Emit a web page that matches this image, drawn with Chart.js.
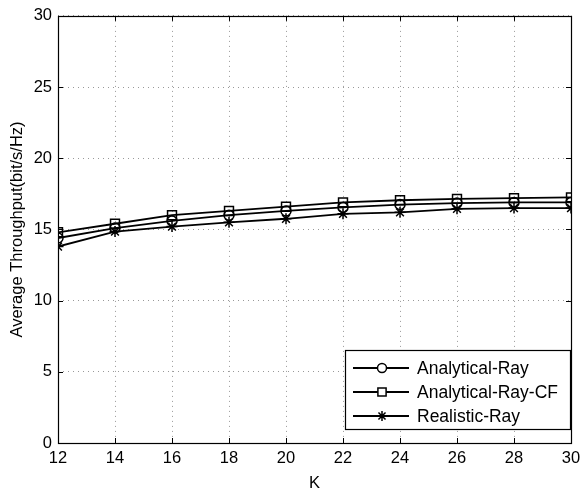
<!DOCTYPE html>
<html>
<head>
<meta charset="utf-8">
<script src="https://cdn.jsdelivr.net/npm/chart.js@4.4.0/dist/chart.umd.min.js"></script>
<style>
  html, body { margin: 0; padding: 0; background: #fff; }
  canvas { display: block; }
</style>
</head>
<body>
<canvas id="chart" width="581" height="488"></canvas>
<script>
// data
var kValues = [12, 14, 16, 18, 20, 22, 24, 26, 28, 30];
var analyticalRay = [14.4, 15.1, 15.6, 16.0, 16.3, 16.55, 16.75, 16.85, 16.9, 16.9];
var analyticalRayCF = [14.8, 15.4, 16.0, 16.3, 16.6, 16.9, 17.05, 17.15, 17.2, 17.25];
var realisticRay = [13.8, 14.85, 15.2, 15.5, 15.75, 16.1, 16.2, 16.45, 16.5, 16.5];
var seriesNames = ['Analytical-Ray', 'Analytical-Ray-CF', 'Realistic-Ray'];
var markers = ['circle', 'rect', 'star'];
var markerSize = { circle: 5, rect: 6.3, star: 5.5 };

var FONT = 'Liberation Sans, Arial, sans-serif';

function toPoints(vals) {
  return kValues.map(function(k, i) { return { x: k, y: vals[i] }; });
}

function makeSet(name, vals, marker) {
  return {
    label: name,
    data: toPoints(vals),
    borderColor: '#000',
    backgroundColor: 'transparent',
    borderWidth: 1.8,
    pointStyle: marker,
    pointRadius: markerSize[marker],
    pointBorderWidth: 1.5,
    pointBorderColor: '#000',
    pointBackgroundColor: 'transparent',
    tension: 0
  };
}

// box, inward ticks and legend, MATLAB style
var matlabBox = {
  id: 'matlabBox',
  afterDraw: function(chart) {
    var ctx = chart.ctx, a = chart.chartArea;
    var xs = chart.scales.x, ys = chart.scales.y;
    ctx.save();
    ctx.strokeStyle = '#000';
    ctx.lineWidth = 1.2;
    ctx.strokeRect(Math.round(a.left) + 0.5, Math.round(a.top) + 0.5,
      Math.round(a.right - a.left), Math.round(a.bottom - a.top));

    ctx.lineWidth = 1;
    ctx.beginPath();
    xs.ticks.forEach(function(t) {
      var px = Math.round(xs.getPixelForValue(t.value)) + 0.5;
      ctx.moveTo(px, a.bottom); ctx.lineTo(px, a.bottom - 5);
      ctx.moveTo(px, a.top); ctx.lineTo(px, a.top + 5);
    });
    ys.ticks.forEach(function(t) {
      var py = Math.round(ys.getPixelForValue(t.value)) + 0.5;
      ctx.moveTo(a.left, py); ctx.lineTo(a.left + 5, py);
      ctx.moveTo(a.right, py); ctx.lineTo(a.right - 5, py);
    });
    ctx.stroke();

    // legend
    var w = 225, h = 79;
    var lx = Math.round(a.right) - w - 1, ly = Math.round(a.bottom) - h - 14;
    ctx.fillStyle = '#fff';
    ctx.fillRect(lx, ly, w, h);
    ctx.lineWidth = 1.2;
    ctx.strokeRect(lx + 0.5, ly + 0.5, w, h);
    ctx.font = '17.5px ' + FONT;
    ctx.textBaseline = 'middle';
    chart.data.datasets.forEach(function(ds, i) {
      var cy = ly + 18 + i * 24;
      ctx.lineWidth = 1.8;
      ctx.beginPath();
      ctx.moveTo(lx + 8, cy); ctx.lineTo(lx + 64, cy);
      ctx.stroke();
      ctx.lineWidth = 1.5;
      ctx.fillStyle = '#fff';
      Chart.helpers.drawPoint(ctx, { pointStyle: ds.pointStyle, radius: ds.pointRadius - 0.5, rotation: 0, borderWidth: 1.5 }, lx + 37, cy);
      ctx.fillStyle = '#000';
      ctx.fillText(ds.label, lx + 72, cy + 1);
    });
    ctx.restore();
  }
};

var ctx = document.getElementById('chart').getContext('2d');
var myChart = new Chart(ctx, {
  type: 'line',
  data: {
    datasets: [
      makeSet(seriesNames[0], analyticalRay, markers[0]),
      makeSet(seriesNames[1], analyticalRayCF, markers[1]),
      makeSet(seriesNames[2], realisticRay, markers[2])
    ]
  },
  options: {
    responsive: false,
    animation: false,
    layout: { padding: { top: 15, right: 0, left: 0, bottom: 0 } },
    plugins: {
      legend: { display: false },
      tooltip: { enabled: false }
    },
    scales: {
      x: {
        type: 'linear',
        min: 12, max: 30,
        ticks: { stepSize: 2, color: '#000', font: { family: FONT, size: 16.5 }, padding: 6, maxRotation: 0 },
        grid: { color: '#999', drawTicks: false, lineWidth: 1 },
        border: { display: false, dash: [1, 4] },
        title: { display: true, text: 'K', color: '#000', font: { family: FONT, size: 16.5 }, padding: { top: 0, bottom: -5 } },
        afterFit: function(s) { s.height = 45; s.paddingLeft = 0; s.paddingRight = 10; }
      },
      y: {
        min: 0, max: 30,
        ticks: { stepSize: 5, color: '#000', font: { family: FONT, size: 16.5 }, padding: 6 },
        grid: { color: '#999', drawTicks: false, lineWidth: 1 },
        border: { display: false, dash: [1, 4] },
        title: { display: true, text: 'Average Throughput(bit/s/Hz)', color: '#000', font: { family: FONT, size: 16.5 }, padding: { top: 8, bottom: 0 } },
        afterFit: function(s) { s.width = 58; }
      }
    }
  },
  plugins: [matlabBox]
});
</script>
</body>
</html>
